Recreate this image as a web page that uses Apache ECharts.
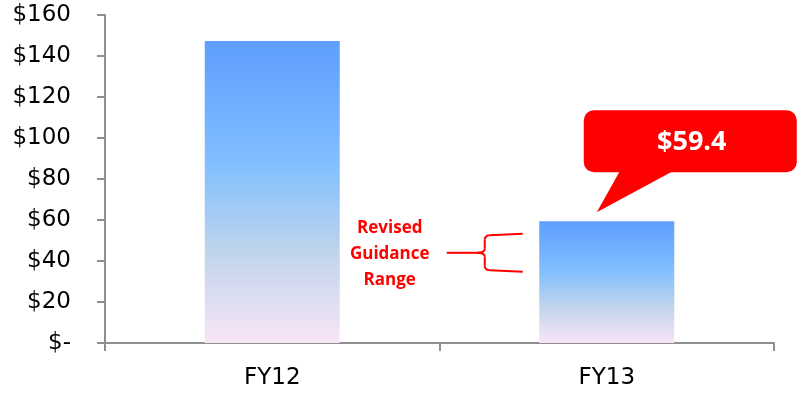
<!DOCTYPE html>
<html>
<head>
<meta charset="utf-8">
<script src="https://cdn.jsdelivr.net/npm/echarts@6/dist/echarts.min.js"></script>
<style>
  html, body { margin: 0; padding: 0; background: #fff; }
  #chart { width: 798px; height: 397px; }
</style>
</head>
<body>
<div id="chart"></div>
<script>
// Fiscal-year totals ($ millions)
const categories = ['FY12', 'FY13'];
const values = [147.3, 59.4];
const calloutText = '$59.4';
const guidanceText = 'Revised\nGuidance\nRange';
// guidance bracket spans these values on the FY13 side
const guidanceRange = [34.7, 53.3];

const chart = echarts.init(document.getElementById('chart'), null, { renderer: 'canvas' });

const barGradient = new echarts.graphic.LinearGradient(0, 0, 0, 1, [
  { offset: 0, color: '#5E9EFF' },
  { offset: 0.4, color: '#80BFFF' },
  { offset: 0.7, color: '#C0D4EC' },
  { offset: 1, color: '#F8E6F6' }
]);

const axisGrey = '#8f8f8f';

chart.setOption({
  animation: false,
  grid: { left: 105, right: 24, top: 15, bottom: 54, containLabel: false },
  xAxis: {
    type: 'category',
    data: categories,
    axisLine: { lineStyle: { color: axisGrey, width: 2 } },
    axisTick: { show: true, length: 8, lineStyle: { color: axisGrey, width: 2 } },
    axisLabel: { color: '#000', fontFamily: 'DejaVu Sans', fontSize: 23, margin: 24 }
  },
  yAxis: {
    type: 'value',
    min: 0, max: 160, interval: 20,
    splitLine: { show: false },
    axisLine: { show: true, lineStyle: { color: axisGrey, width: 2 } },
    axisTick: { show: true, length: 8, lineStyle: { color: axisGrey, width: 2 } },
    axisLabel: {
      color: '#000', fontFamily: 'DejaVu Sans', fontSize: 23, margin: 34,
      formatter: v => v === 0 ? '$-' : '$' + v
    }
  },
  series: [{
    type: 'bar',
    data: values,
    barWidth: 135,
    itemStyle: { color: barGradient }
  }]
});

// Callout bubble and guidance bracket, anchored to the FY13 bar
function drawAnnotations() {
  const top = chart.convertToPixel({ gridIndex: 0 }, [categories[1], values[1]]);
  const tipX = top[0] - 10, tipY = top[1] - 9;
  const boxL = tipX - 13, boxT = tipY - 102, boxW = 213, boxH = 62;
  const boxB = boxT + boxH;

  const hi = chart.convertToPixel({ gridIndex: 0 }, [categories[1], guidanceRange[1]]);
  const lo = chart.convertToPixel({ gridIndex: 0 }, [categories[1], guidanceRange[0]]);
  const armR = top[0] - 84;      // right end of the brace arms
  const spine = armR - 38;       // vertical spine of the brace
  const midY = (hi[1] + lo[1]) / 2;
  const stemL = spine - 38;

  const red = { stroke: '#FF0000', lineWidth: 2, fill: null };
  const seg = (id, x1, y1, x2, y2) => ({
    type: 'line', id, shape: { x1, y1, x2, y2 }, style: red, z: 10
  });
  const curve = (id, x1, y1, cx, cy, x2, y2) => ({
    type: 'bezierCurve', id, shape: { x1, y1, cpx1: cx, cpy1: cy, x2, y2 }, style: red, z: 10
  });

  chart.setOption({
    graphic: [
      {
        type: 'rect', id: 'bubble',
        shape: { x: boxL, y: boxT, width: boxW, height: boxH, r: 10 },
        style: { fill: '#FF0000' }, z: 10
      },
      {
        type: 'polygon', id: 'pointer',
        shape: { points: [[boxL + 36, boxB - 1], [boxL + 89, boxB - 1], [tipX, tipY]] },
        style: { fill: '#FF0000' }, z: 10
      },
      {
        type: 'text', id: 'bubbleText',
        x: boxL + 108, y: boxT + 32,
        style: {
          text: calloutText, fill: '#fff', fontFamily: 'Open Sans',
          fontWeight: 'bold', fontSize: 27, align: 'center', verticalAlign: 'middle'
        }, z: 11
      },
      // brace: upper arm, spine, centre point, lower arm
      seg('armTop', armR, hi[1], spine + 5, hi[1] + 1.5),
      curve('cornerTop', spine + 5, hi[1] + 1.5, spine, hi[1] + 2, spine, hi[1] + 6),
      seg('spineTop', spine, hi[1] + 6, spine, midY - 4),
      curve('pointTop', spine, midY - 4, spine, midY, spine - 8, midY),
      curve('pointBottom', spine - 8, midY, spine, midY, spine, midY + 4),
      seg('spineBottom', spine, midY + 4, spine, lo[1] - 6),
      curve('cornerBottom', spine, lo[1] - 6, spine, lo[1] - 2, spine + 5, lo[1] - 1.5),
      seg('armBottom', spine + 5, lo[1] - 1.5, armR, lo[1]),
      seg('braceStem', stemL, midY, spine - 8, midY),
      {
        type: 'text', id: 'guidance',
        x: stemL - 57, y: midY + 1,
        style: {
          text: guidanceText, fill: '#FF0000', fontFamily: 'Open Sans',
          fontWeight: 'bold', fontSize: 17, lineHeight: 26,
          align: 'center', verticalAlign: 'middle'
        }, z: 10
      }
    ]
  });
}
drawAnnotations();
</script>
</body>
</html>
